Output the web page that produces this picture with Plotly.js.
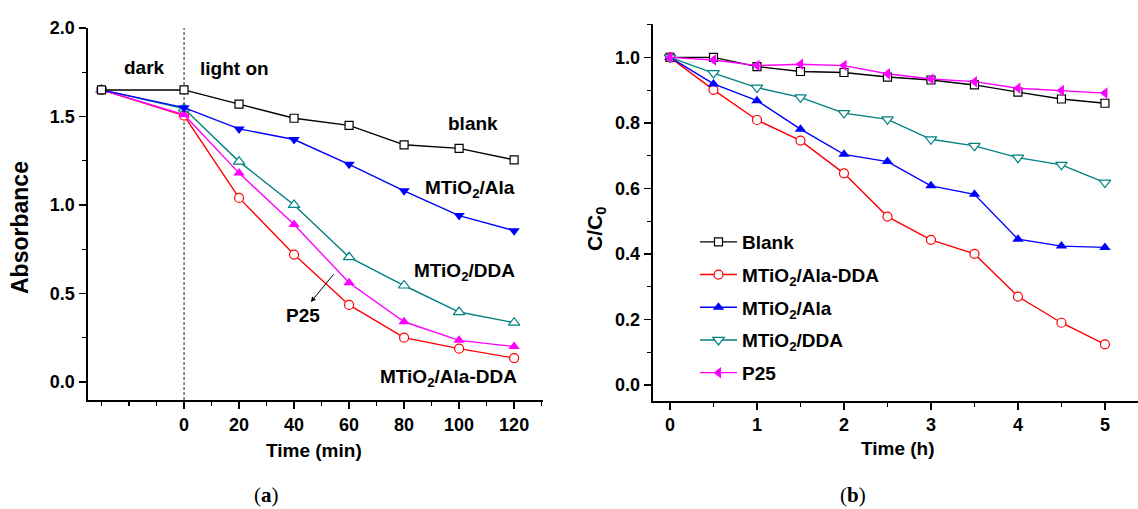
<!DOCTYPE html>
<html>
<head>
<meta charset="utf-8">
<script src="https://cdn.plot.ly/plotly-3.0.1.min.js"></script>
<style>html,body{margin:0;padding:0;background:#fff;}#chart{width:1138px;height:509px;}</style>
</head>
<body>
<div id="chart"></div>
<script>
// ---- Panel (a): absorbance vs time (min) ----
const leftTime = [-30, 0, 20, 40, 60, 80, 100, 120];
const absBlank = [1.65, 1.65, 1.57, 1.49, 1.45, 1.34, 1.32, 1.255];
const absAla = [1.65, 1.55, 1.43, 1.37, 1.23, 1.08, 0.94, 0.855];
const absDDA = [1.65, 1.545, 1.245, 1.0, 0.705, 0.545, 0.395, 0.335];
const absP25 = [1.65, 1.51, 1.18, 0.89, 0.56, 0.34, 0.235, 0.2];
const absAlaDDA = [1.65, 1.505, 1.04, 0.72, 0.435, 0.25, 0.188, 0.135];
const leftTickVals = [0, 20, 40, 60, 80, 100, 120];

// ---- Panel (b): C/C0 vs time (h) ----
const rightTime = [0, 0.5, 1, 1.5, 2, 2.5, 3, 3.5, 4, 4.5, 5];
const ccBlank = [1.0, 1.0, 0.972, 0.957, 0.954, 0.94, 0.931, 0.916, 0.894, 0.873, 0.86];
const ccAlaDDA = [1.0, 0.901, 0.809, 0.746, 0.646, 0.514, 0.443, 0.4, 0.27, 0.19, 0.124];
const ccAla = [1.0, 0.919, 0.868, 0.781, 0.704, 0.682, 0.608, 0.582, 0.445, 0.424, 0.42];
const ccDDA = [1.0, 0.952, 0.908, 0.878, 0.83, 0.811, 0.75, 0.73, 0.694, 0.672, 0.618];
const ccP25 = [1.0, 0.992, 0.975, 0.979, 0.975, 0.95, 0.934, 0.926, 0.906, 0.899, 0.891];

const legendNames = ['Blank', 'MTiO<sub>2</sub>/Ala-DDA', 'MTiO<sub>2</sub>/Ala', 'MTiO<sub>2</sub>/DDA', 'P25'];

const FONT = 'Liberation Sans, Arial, sans-serif';
const C_BLACK = '#000000', C_RED = '#ff0000', C_BLUE = '#0000ff', C_TEAL = '#008080', C_MAG = '#ff00ff';

function openMk(sym, col, size) {
  return {symbol: sym, size: size || 9, color: '#ffffff', line: {color: col, width: 1.2}};
}
function fillMk(sym, col, size) {
  return {symbol: sym, size: size || 10, color: col, line: {color: col, width: 0}};
}
function tr(x, y, xa, ya, col, mk, name, show, grp) {
  return {x: x, y: y, xaxis: xa, yaxis: ya, type: 'scatter', mode: 'lines+markers',
    line: {color: col, width: 1.4}, marker: mk, name: name, showlegend: show,
    legendgroup: grp, cliponaxis: false};
}

const traces = [
  tr(leftTime, absAlaDDA, 'x', 'y', C_RED, openMk('circle', C_RED, 9), 'a1', false, 'a'),
  tr(leftTime, absDDA, 'x', 'y', C_TEAL, openMk('triangle-up', C_TEAL, 10), 'a2', false, 'a'),
  tr(leftTime, absP25, 'x', 'y', C_MAG, fillMk('triangle-up', C_MAG, 10), 'a3', false, 'a'),
  tr(leftTime, absAla, 'x', 'y', C_BLUE, fillMk('triangle-down', C_BLUE, 10), 'a4', false, 'a'),
  tr(leftTime, absBlank, 'x', 'y', C_BLACK, openMk('square', C_BLACK, 8), 'a5', false, 'a'),

  tr(rightTime, ccBlank, 'x2', 'y2', C_BLACK, openMk('square', C_BLACK, 8), legendNames[0], true, 'g1'),
  tr(rightTime, ccAlaDDA, 'x2', 'y2', C_RED, openMk('circle', C_RED, 9), legendNames[1], true, 'g2'),
  tr(rightTime, ccAla, 'x2', 'y2', C_BLUE, fillMk('triangle-up', C_BLUE, 10), legendNames[2], true, 'g3'),
  tr(rightTime, ccDDA, 'x2', 'y2', C_TEAL, openMk('triangle-down', C_TEAL, 10), legendNames[3], true, 'g4'),
  tr(rightTime, ccP25, 'x2', 'y2', C_MAG, fillMk('triangle-left', C_MAG, 10), legendNames[4], true, 'g5')
];

const tickFont = {family: FONT, size: 18, color: '#000', weight: 'bold'};
const baseAxis = {showgrid: false, zeroline: false, showline: true, linecolor: '#000', linewidth: 2,
  ticks: 'outside', ticklen: 7, tickwidth: 1.5, tickcolor: '#000', tickfont: tickFont};

const LX = [87.5 / 1138, 543 / 1138];
const LY = [(509 - 400) / 509, (509 - 28) / 509];
const RX = [652.6 / 1138, 1.0];
const RY = [(509 - 400.7) / 509, (509 - 24) / 509];
const LXR = [-35.1, 130.5], LYR = [-0.102, 2.0];
const RXR = [-0.2, 5.38], RYR = [-0.048, 1.102];

function ann(xref, yref, x, y, text, extra) {
  return Object.assign({xref: xref, yref: yref, x: x, y: y, text: text, showarrow: false,
    xanchor: 'center', yanchor: 'middle', font: {family: FONT, size: 19, weight: 'bold', color: '#000'}}, extra || {});
}

const layout = {
  width: 1138, height: 509,
  margin: {l: 0, r: 0, t: 0, b: 0, pad: 0},
  paper_bgcolor: '#ffffff', plot_bgcolor: 'rgba(0,0,0,0)',
  font: {family: FONT, color: '#000'},
  showlegend: true,
  xaxis: Object.assign({}, baseAxis, {domain: LX, anchor: 'y', range: LXR, tickmode: 'array', tickvals: leftTickVals,
    minor: {dtick: 10, tick0: 0, ticks: 'outside', ticklen: 4, tickwidth: 1.2, tickcolor: '#000'}}),
  yaxis: Object.assign({}, baseAxis, {domain: LY, anchor: 'x', range: LYR, tickmode: 'linear', tick0: 0, dtick: 0.5, tickformat: '.1f',
    minor: {dtick: 0.25, tick0: 0, ticks: 'outside', ticklen: 4, tickwidth: 1.2, tickcolor: '#000'}}),
  xaxis3: {overlaying: 'x', side: 'top', anchor: 'y', range: LXR, showgrid: false, zeroline: false, showline: true,
    linecolor: '#000', linewidth: 2, ticks: 'inside', ticklen: 4, tickwidth: 1.2, tickmode: 'linear', tick0: 0, dtick: 10, showticklabels: false},
  yaxis3: {overlaying: 'y', side: 'right', anchor: 'x', range: LYR, showgrid: false, zeroline: false, showline: true,
    linecolor: '#000', linewidth: 2, ticks: 'inside', ticklen: 5, tickwidth: 1.2, tickmode: 'linear', tick0: 0, dtick: 0.25, showticklabels: false},
  xaxis2: Object.assign({}, baseAxis, {domain: RX, anchor: 'y2', range: RXR, tickmode: 'linear', tick0: 0, dtick: 1,
    minor: {dtick: 0.5, tick0: 0, ticks: 'outside', ticklen: 4, tickwidth: 1.2, tickcolor: '#000'}}),
  yaxis2: Object.assign({}, baseAxis, {domain: RY, anchor: 'x2', range: RYR, tickmode: 'linear', tick0: 0, dtick: 0.2, tickformat: '.1f',
    minor: {dtick: 0.1, tick0: 0, ticks: 'outside', ticklen: 4, tickwidth: 1.2, tickcolor: '#000'}}),
  xaxis4: {overlaying: 'x2', side: 'top', anchor: 'y2', range: RXR, showgrid: false, zeroline: false, showline: true,
    linecolor: '#000', linewidth: 2, ticks: 'inside', ticklen: 4, tickwidth: 1.2, tickmode: 'linear', tick0: 0, dtick: 0.5, showticklabels: false},
  legend: {x: 695 / 1138, y: (509 - 223) / 509, xanchor: 'left', yanchor: 'top', bgcolor: 'rgba(0,0,0,0)', borderwidth: 0,
    font: {family: FONT, size: 19, color: '#000', weight: 'bold'}, traceorder: 'grouped', tracegroupgap: 5, itemwidth: 37},
  shapes: [
    {type: 'line', xref: 'x', yref: 'y', x0: 0, x1: 0, y0: LYR[0], y1: LYR[1], line: {color: '#222', width: 1, dash: '3px,2px'}, layer: 'below'}
  ],
  annotations: [
    ann('x', 'y', -14.3, 1.775, 'dark'),
    ann('x', 'y', 18.2, 1.77, 'light on'),
    ann('x', 'y', 105, 1.46, 'blank'),
    ann('x', 'y', 104, 1.09, 'MTiO<sub>2</sub>/Ala'),
    ann('x', 'y', 102, 0.62, 'MTiO<sub>2</sub>/DDA'),
    ann('x', 'y', 43.3, 0.378, 'P25'),
    {xref: 'x', yref: 'y', axref: 'x', ayref: 'y', x: 46.1, y: 0.452, ax: 54.8, ay: 0.616, text: '', showarrow: true,
      arrowhead: 2, arrowsize: 1, arrowwidth: 1, arrowcolor: '#000', standoff: 0},
    ann('x', 'y', 96, 0.02, 'MTiO<sub>2</sub>/Ala-DDA'),
    ann('paper', 'paper', 314 / 1138, (509 - 450) / 509, 'Time (min)'),
    ann('paper', 'paper', 20 / 1138, (509 - 228) / 509, 'Absorbance', {textangle: -90, font: {family: FONT, size: 23, weight: 'bold', color: '#000'}}),
    ann('paper', 'paper', 266 / 1138, (509 - 495) / 509, '(<b>a</b>)', {font: {family: 'Liberation Serif, DejaVu Serif, serif', size: 21, color: '#000'}}),
    ann('paper', 'paper', 898 / 1138, (509 - 448) / 509, 'Time (h)'),
    ann('paper', 'paper', 596 / 1138, (509 - 229) / 509, 'C/C<sub>0</sub>', {textangle: -90, font: {family: FONT, size: 21, weight: 'bold', color: '#000'}}),
    ann('paper', 'paper', 853 / 1138, (509 - 495) / 509, '(<b>b</b>)', {font: {family: 'Liberation Serif, DejaVu Serif, serif', size: 21, color: '#000'}})
  ]
};

Plotly.newPlot('chart', traces, layout, {displayModeBar: false, staticPlot: true});
</script>
</body>
</html>
